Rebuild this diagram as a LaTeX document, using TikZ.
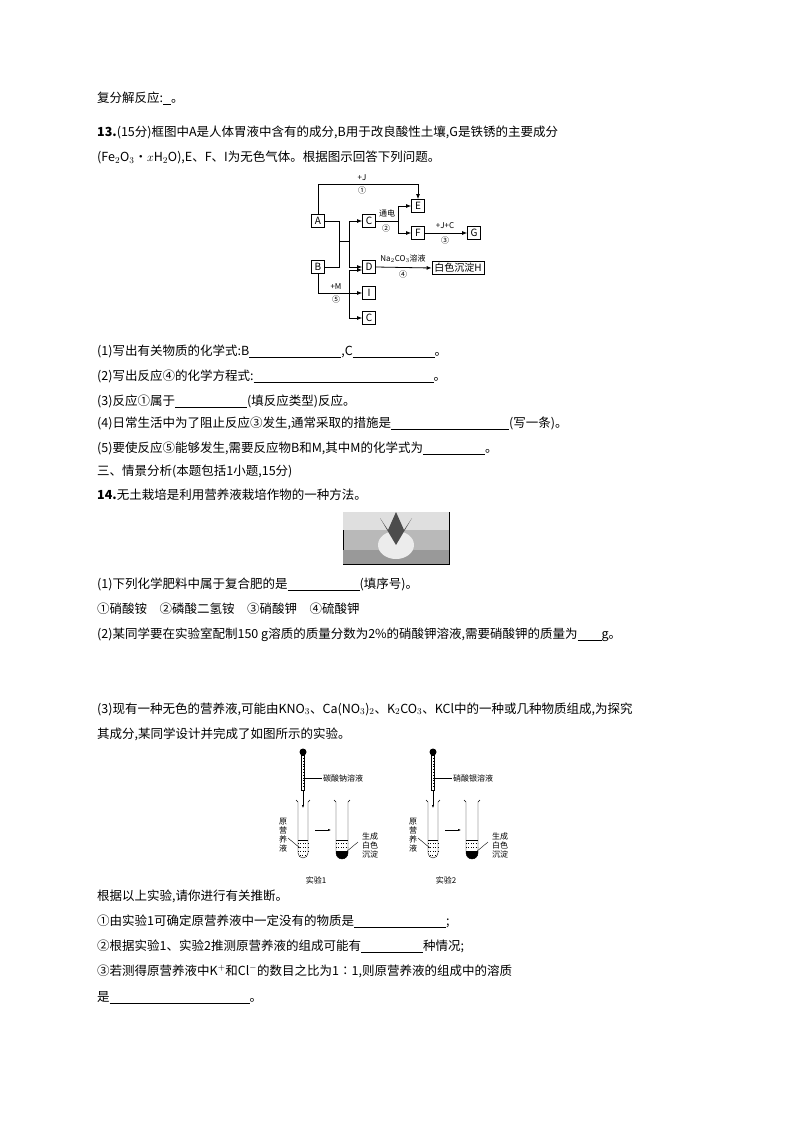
\documentclass[tikz,border=0pt]{standalone}
\usepackage{fontspec}
\setmainfont{Noto Sans CJK SC}
\usetikzlibrary{arrows.meta}
\newcommand{\blank}[1]{\rule[-2pt]{#1pt}{0.5pt}}
\begin{document}
\begin{tikzpicture}[x=1pt,y=-1pt,
  txt/.style={anchor=base west,inner sep=0,font=\fontsize{12.5}{14}\selectfont},
  bx/.style={draw,thick,minimum width=13pt,minimum height=13pt,inner sep=0,font=\fontsize{10}{10}\selectfont},
  lab/.style={font=\fontsize{8}{8}\selectfont,inner sep=0},
  ar/.style={-{Latex[length=5pt,width=4pt]},thick},
  ln/.style={thick}]
\useasboundingbox (0,0) rectangle (794,1123);
\node[txt] (t1) at (97,103) {复分解反应:\blank{8}。};
\node[txt] (t2) at (97,137) {\textbf{13.}(15分)框图中A是人体胃液中含有的成分,B用于改良酸性土壤,G是铁锈的主要成分};
\node[txt] (t3) at (97,162) {(Fe$_2$O$_3$·$x$H$_2$O),E、F、I为无色气体。根据图示回答下列问题。};
% flowchart
\node[bx] (A) at (318,221) {A};
\node[bx] (B) at (318,267) {B};
\node[bx] (C) at (369,221) {C};
\node[bx] (E) at (418,206) {E};
\node[bx] (F) at (418,233) {F};
\node[bx] (G) at (474,233) {G};
\node[bx] (D) at (369,267) {D};
\node[bx,minimum width=52pt] (H) at (458,268) {白色沉淀H};
\node[bx] (I) at (369,293) {I};
\node[bx] (C2) at (369,318) {C};
\coordinate (j1) at (339,241);
\draw[ln] (A.east) -| (j1);
\draw[ln] (B.east) -| (j1);
\draw[ln] (j1) -- (349,241);
\draw[ar] (349,241) |- (C.west);
\draw[ar] (349,241) |- (D.west);
\draw[ar] (A.north) |- (418,184) -- (E.north);
\node[lab] (l1) at (362,178) {+J};
\node[lab] (l1b) at (362,190) {①};
\draw[ln] (C.east) -- (398,221);
\draw[ar] (398,221) |- (E.west);
\draw[ar] (398,221) |- (F.west);
\node[lab] (l2) at (387,213) {通电};
\node[lab] (l2b) at (386,228) {②};
\draw[ar] (F.east) -- (G.west);
\node[lab] (l3) at (445,226) {+J+C};
\node[lab] (l3b) at (445,240) {③};
\draw[ar] (D.east) -- (H.west);
\node[lab] (l4) at (403,259) {Na$_2$CO$_3$溶液};
\node[lab] (l4b) at (403,274) {④};
\draw[ar] (B.south) |- (I.west);
\node[lab] (l5) at (336,287) {+M};
\node[lab] (l5b) at (336,299) {⑤};
\draw[ln] (349,270) -- (349,318);
\draw[ar] (349,270) -- (D.west|-0,270);
\draw[ar] (349,318) -- (C2.west);
% questions
\node[txt] (q1) at (97,355) {(1)写出有关物质的化学式:B\blank{92},C\blank{82}。};
\node[txt] (q2) at (97,380) {(2)写出反应④的化学方程式:\blank{180}。};
\node[txt] (q3) at (97,405) {(3)反应①属于\blank{72}(填反应类型)反应。};
\node[txt] (q4) at (97,427) {(4)日常生活中为了阻止反应③发生,通常采取的措施是\blank{118}(写一条)。};
\node[txt] (q5) at (97,452) {(5)要使反应⑤能够发生,需要反应物B和M,其中M的化学式为\blank{62}。};
\node[txt] (s3) at (97,475) {三、情景分析(本题包括1小题,15分)};
\node[txt] (q14) at (97,499) {\textbf{14.}无土栽培是利用营养液栽培作物的一种方法。};
% photo
\node[draw,fill=gray!55,minimum width=106pt,minimum height=52pt,inner sep=0] (ph) at (396,538) {};
\fill[gray!25] (343,512) rectangle (449,530);
\fill[gray!80] (343,550) rectangle (449,564);
\fill[gray!15] (396,545) ellipse (18 and 14);
\fill[black!70] (380,518) -- (396,545) -- (412,518) -- (404,530) -- (396,512) -- (388,530) -- cycle;
\node[txt] (p1) at (97,588) {(1)下列化学肥料中属于复合肥的是\blank{72}(填序号)。};
\node[txt] (p2) at (97,613) {①硝酸铵\quad ②磷酸二氢铵\quad ③硝酸钾\quad ④硫酸钾};
\node[txt] (p3) at (97,638) {(2)某同学要在实验室配制150 g溶质的质量分数为2\%的硝酸钾溶液,需要硝酸钾的质量为\blank{24}g。};
\node[txt] (p4) at (97,713) {(3)现有一种无色的营养液,可能由KNO$_3$、Ca(NO$_3$)$_2$、K$_2$CO$_3$、KCl中的一种或几种物质组成,为探究};
\node[txt] (p5) at (97,738) {其成分,某同学设计并完成了如图所示的实验。};
% experiments
\foreach \dx/\sol/\nm in {0/碳酸钠溶液/实验1,130/硝酸银溶液/实验2}{
  \begin{scope}[xshift=\dx]
  \fill (303,752) circle (3.5);
  \draw (301.5,755) rectangle (304.5,790);
  \draw[dotted,thick] (303,758) -- (303,788);
  \draw[-{Latex[length=3pt]}] (303,790) -- (303,808);
  \draw (304.5,778) -- (322,778);
  \node[lab,anchor=west,font=\fontsize{8}{9}\selectfont] at (323,778) {\sol};
  \draw (296,800) -- (298,802) -- (298,853) arc (180:0:5) -- (308,802) -- (310,800);
  \draw (298,840) -- (308,840);
  \draw[dotted] (298,843) -- (308,843); \draw[dotted] (298,847) -- (308,847); \draw[dotted] (298,851) -- (308,851); \draw[dotted] (300,855) -- (306,855);
  \node[lab,font=\fontsize{8}{9}\selectfont,align=center] at (283,835) {原\\营\\养\\液};
  \draw (288,838) -- (300,848);
  \draw[-{Latex[length=3pt]}] (315,830) -- (331,830);
  \draw (334,800) -- (336,802) -- (336,853) arc (180:0:6) -- (348,802) -- (350,800);
  \draw (336,840) -- (348,840);
  \draw[dotted] (336,843) -- (348,843); \draw[dotted] (336,847) -- (348,847);
  \fill (336,851) -- (348,851) -- (348,853) arc (0:180:6) -- cycle;
  \draw (346,852) -- (358,842);
  \node[lab,font=\fontsize{8}{9}\selectfont,align=center] at (370,845) {生成\\白色\\沉淀};
  \node[lab,font=\fontsize{8}{9}\selectfont] at (316,880) {\nm};
  \end{scope}}
\node[txt] (r1) at (97,900) {根据以上实验,请你进行有关推断。};
\node[txt] (r2) at (97,925) {①由实验1可确定原营养液中一定没有的物质是\blank{92};};
\node[txt] (r3) at (97,950) {②根据实验1、实验2推测原营养液的组成可能有\blank{62}种情况;};
\node[txt] (r4) at (97,975) {③若测得原营养液中K$^+$和Cl$^-$的数目之比为1∶1,则原营养液的组成中的溶质};
\node[txt] (r5) at (97,1001) {是\blank{140}。};
\end{tikzpicture}
\end{document}
